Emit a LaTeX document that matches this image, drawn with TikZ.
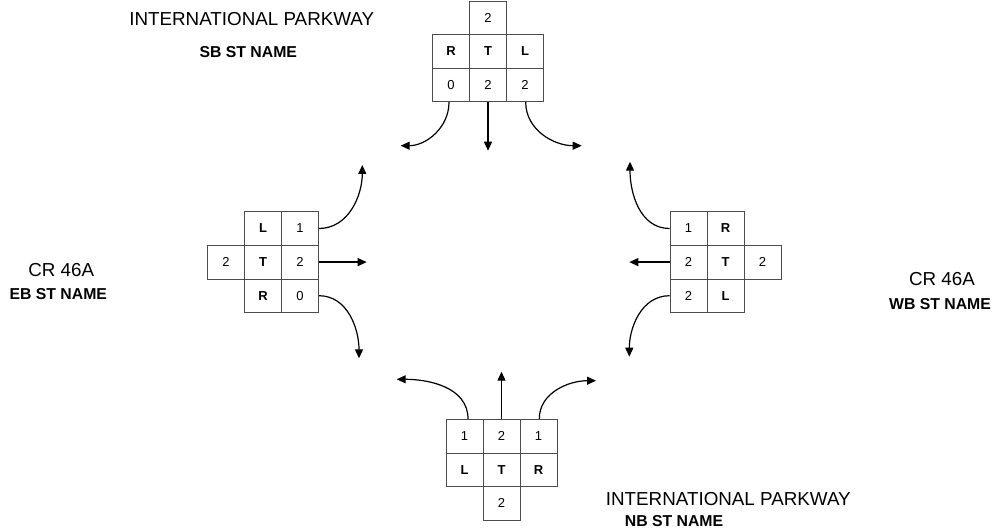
\documentclass[tikz,border=0pt]{standalone}
\usepackage{fontspec}
\setmainfont{Liberation Sans}
\usetikzlibrary{arrows.meta}
\begin{document}
\begin{tikzpicture}[x=1pt,y=-1pt,
  cell/.style={draw=black!70, line width=0.7pt, minimum width=37pt, minimum height=33.6pt, inner sep=0pt, font=\fontsize{13}{13}\selectfont},
  lbl/.style={cell, font=\fontsize{13}{13}\selectfont\bfseries},
  flow/.style={line width=1.2pt, -{Triangle[length=9pt,width=8pt]}},
  roadname/.style={anchor=base, inner sep=0pt, font=\fontsize{18.8}{20}\selectfont},
  dirname/.style={anchor=base, inner sep=0pt, font=\fontsize{15.8}{17}\selectfont\bfseries}]
\useasboundingbox (0,0) rectangle (999,529);

% ---------- South-bound approach (top) ----------
\node[cell] (t0)  at (488,17.8) {2};
\node[lbl]  (t10) at (451,51.4) {R};
\node[lbl]  (t11) at (488,51.4) {T};
\node[lbl]  (t12) at (525,51.4) {L};
\node[cell] (t20) at (451,85) {0};
\node[cell] (t21) at (488,85) {2};
\node[cell] (t22) at (525,85) {2};
\coordinate (tL) at (400.7,145.7);
\coordinate (tT) at (488,150.7);
\coordinate (tR) at (581.7,145.7);
\draw[flow] ([xshift=-2pt]t20.south) to[out=-90,in=0] (tL);
\draw[flow] (t21.south) -- (tT);
\draw[flow] ([xshift=0.7pt]t22.south) to[out=-90,in=180] (tR);

% ---------- East-bound approach (left) ----------
\node[lbl]  (l00) at (263,228.5) {L};
\node[cell] (l01) at (300,228.5) {1};
\node[cell] (l1x) at (226,262.1) {2};
\node[lbl]  (l10) at (263,262.1) {T};
\node[cell] (l11) at (300,262.1) {2};
\node[lbl]  (l20) at (263,295.7) {R};
\node[cell] (l21) at (300,295.7) {0};
\coordinate (lL) at (362.3,165);
\coordinate (lT) at (366.7,262.1);
\coordinate (lR) at (359,358.3);
\draw[flow] (l01.east) to[out=0,in=-90] (lL);
\draw[flow] (l11.east) -- (lT);
\draw[flow] (l21.east) to[out=0,in=90] (lR);

% ---------- West-bound approach (right) ----------
\node[cell] (r00) at (688.5,228.5) {1};
\node[lbl]  (r01) at (725.5,228.5) {R};
\node[cell] (r10) at (688.5,262.1) {2};
\node[lbl]  (r11) at (725.5,262.1) {T};
\node[cell] (r1x) at (762.5,262.1) {2};
\node[cell] (r20) at (688.5,295.7) {2};
\node[lbl]  (r21) at (725.5,295.7) {L};
\coordinate (rR) at (630,161.7);
\coordinate (rT) at (629.3,262.1);
\coordinate (rL) at (629.3,356.7);
\draw[flow] (r00.west) to[out=180,in=-90] (rR);
\draw[flow] (r10.west) -- (rT);
\draw[flow] (r20.west) to[out=180,in=90] (rL);

% ---------- North-bound approach (bottom) ----------
\node[cell] (b00) at (464.5,436.1) {1};
\node[cell] (b01) at (501.5,436.1) {2};
\node[cell] (b02) at (538.5,436.1) {1};
\node[lbl]  (b10) at (464.5,469.7) {L};
\node[lbl]  (b11) at (501.5,469.7) {T};
\node[lbl]  (b12) at (538.5,469.7) {R};
\node[cell] (b2)  at (501.5,503.3) {2};
\coordinate (bL) at (396.7,379.3);
\coordinate (bT) at (501.5,371.7);
\coordinate (bR) at (596,380.7);
\draw[flow] ([xshift=3.5pt]b00.north) to[out=90,in=0] (bL);
\draw[flow] (b01.north) -- (bT);
\draw[flow] ([xshift=0.8pt]b02.north) to[out=90,in=180] (bR);

% ---------- Street names ----------
\node[roadname] (n1) at (251.7,26) {INTERNATIONAL PARKWAY};
\node[dirname]  (n2) at (248.3,57.3) {SB ST NAME};
\node[roadname] (w1) at (61.3,276.7) {CR 46A};
\node[dirname]  (w2) at (58.3,300) {EB ST NAME};
\node[roadname] (e1) at (942,286) {CR 46A};
\node[dirname]  (e2) at (940,309.3) {WB ST NAME};
\node[roadname] (s1) at (728.3,505) {INTERNATIONAL PARKWAY};
\node[dirname]  (s2) at (674,526.7) {NB ST NAME};
\end{tikzpicture}
\end{document}
